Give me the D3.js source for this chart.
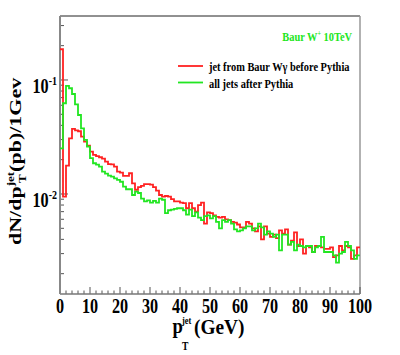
<!DOCTYPE html>
<html>
<head>
<meta charset="utf-8">
<script src="https://cdn.jsdelivr.net/npm/d3@7"></script>
<style>
  body { margin: 0; background: #fff; }
  text { font-family: "Liberation Serif", "DejaVu Serif", serif; font-weight: bold; }
</style>
</head>
<body>
<div id="chart"></div>
<script>
// jet pT histograms, 1 GeV bins from 0 to 100
var binWidth = 1;
var redVals = [
  0.186, 0.0095, 0.0177, 0.0308, 0.0372, 0.0362, 0.0355, 0.0318, 0.0288, 0.0265,
  0.0235, 0.0220, 0.0215, 0.0210, 0.0204, 0.0192, 0.0183, 0.0182, 0.0174, 0.0157,
  0.0154, 0.0144, 0.0144, 0.0152, 0.0124, 0.0109, 0.0115, 0.0118, 0.0122, 0.0122,
  0.0121, 0.0115, 0.0107, 0.0098, 0.0095, 0.0096, 0.0095, 0.0090, 0.0086, 0.0086,
  0.0084, 0.0083, 0.0075, 0.0083, 0.0075, 0.0070, 0.0080, 0.0084, 0.0055, 0.0069,
  0.0068, 0.0065, 0.0063, 0.0062, 0.0063, 0.0060, 0.0059, 0.0057, 0.0056, 0.0054,
  0.0051, 0.0051, 0.0057, 0.0055, 0.0050, 0.0047, 0.0052, 0.0040, 0.0052, 0.0045,
  0.0042, 0.0044, 0.0041, 0.0048, 0.0045, 0.0049, 0.0036, 0.0039, 0.0046, 0.0035,
  0.0040, 0.0030, 0.0035, 0.0034, 0.0031, 0.0035, 0.0035, 0.0034, 0.0033, 0.0033,
  0.0034, 0.0028, 0.0029, 0.0035, 0.0032, 0.0035, 0.0034, 0.0027, 0.0029, 0.0034
];
var greenVals = [
  0.0251, 0.0625, 0.0886, 0.0846, 0.0753, 0.0612, 0.0493, 0.0377, 0.0298, 0.0260,
  0.0206, 0.0186, 0.0181, 0.0174, 0.0157, 0.0151, 0.0145, 0.0142, 0.0137, 0.0133,
  0.0128, 0.0116, 0.0110, 0.0110, 0.0098, 0.0105, 0.0102, 0.0091, 0.0086, 0.0088,
  0.0084, 0.0087, 0.0084, 0.0091, 0.0089, 0.0068, 0.0072, 0.0073, 0.0074, 0.0075,
  0.0075, 0.0072, 0.0066, 0.0073, 0.0064, 0.0069, 0.0062, 0.0059, 0.0064, 0.0065,
  0.0061, 0.0064, 0.0057, 0.0050, 0.0059, 0.0057, 0.0059, 0.0055, 0.0049, 0.0047,
  0.0048, 0.0050, 0.0052, 0.0052, 0.0048, 0.0050, 0.0055, 0.0051, 0.0044, 0.0047,
  0.0045, 0.0042, 0.0044, 0.0032, 0.0044, 0.0044, 0.0036, 0.0038, 0.0032, 0.0036,
  0.0035, 0.0034, 0.0035, 0.0035, 0.0031, 0.0034, 0.0035, 0.0042, 0.0031, 0.0031,
  0.0031, 0.0029, 0.0025, 0.0030, 0.0031, 0.0038, 0.0035, 0.0032, 0.0027, 0.0029
];
var legendLabels = ["jet from Baur W\u03b3 before Pythia", "all jets after Pythia"];
var xTickLabels = ["0", "10", "20", "30", "40", "50", "60", "70", "80", "90", "100"];
var yTickLabels = [{ v: 0.1, exp: "-1" }, { v: 0.01, exp: "-2" }];

var width = 400, height = 355;
var margin = { top: 16, right: 40, bottom: 61, left: 60 };
var squeeze = 0.77;   // the reference fonts are narrow
var redCol = "#ff2222", greenCol = "#22e622";

var svg = d3.select("#chart").append("svg")
    .attr("width", width)
    .attr("height", height);

var x = d3.scaleLinear()
    .domain([0, 100])
    .range([margin.left, width - margin.right]);

var y = d3.scaleLog()
    .domain([0.001327, 0.364])
    .range([height - margin.bottom, margin.top]);

// frame
var x0 = x.range()[0], x1 = x.range()[1], y0 = y.range()[0], y1 = y.range()[1];
svg.append("line").attr("x1", x0).attr("x2", x1).attr("y1", y1).attr("y2", y1)
    .style("stroke", "#222").style("stroke-width", 1);
svg.append("line").attr("x1", x1).attr("x2", x1).attr("y1", y1).attr("y2", y0)
    .style("stroke", "#999").style("stroke-width", 1.5);

// x axis ticks: majors every 10, minors every 2
var xMinor = d3.range(0, 101, 2);
svg.selectAll(".xtick")
    .data(xMinor)
    .enter().append("line")
    .attr("class", "xtick")
    .attr("x1", function(d) { return x(d); })
    .attr("x2", function(d) { return x(d); })
    .attr("y1", y0)
    .attr("y2", function(d) { return d % 10 === 0 ? y0 - 7 : y0 - 3.5; })
    .style("stroke", "#555").style("stroke-width", 1);

// y axis ticks on log scale
var yMinor = [];
[-3, -2, -1].forEach(function(e) {
    for (var m = 1; m <= 9; m++) {
        var v = m * Math.pow(10, e);
        if (v >= y.domain()[0] && v <= y.domain()[1]) yMinor.push({ v: v, major: m === 1 });
    }
});
svg.selectAll(".ytick")
    .data(yMinor)
    .enter().append("line")
    .attr("class", "ytick")
    .attr("x1", x0)
    .attr("x2", function(d) { return d.major ? x0 + 8 : x0 + 4; })
    .attr("y1", function(d) { return y(d.v); })
    .attr("y2", function(d) { return y(d.v); })
    .style("stroke", "#555").style("stroke-width", 1);

svg.append("line").attr("x1", x0).attr("x2", x1).attr("y1", y0).attr("y2", y0)
    .style("stroke", "#777").style("stroke-width", 1.5);
svg.append("line").attr("x1", x0).attr("x2", x0).attr("y1", y1).attr("y2", y0)
    .style("stroke", "#888").style("stroke-width", 2);

// helper for narrow text
function label(px, py, anchor, sq) {
    return svg.append("g")
        .attr("transform", "translate(" + px + "," + py + ") scale(" + (sq || squeeze) + ",1)")
        .append("text")
        .attr("text-anchor", anchor);
}

xTickLabels.forEach(function(t) {
    label(x(+t), 313, "middle").style("font-size", "21px").text(t);
});

yTickLabels.forEach(function(d) {
    var t = label(x0 - 3, y(d.v) + 13, "end").style("font-size", "21px");
    t.append("tspan").text("10");
    t.append("tspan").attr("dy", -8).style("font-size", "13px").text(d.exp);
});

// histograms
var line = d3.line()
    .x(function(d) { return x(d[0]); })
    .y(function(d) { return y(d[1]); })
    .curve(d3.curveStepAfter);

function steps(vals) {
    var pts = vals.map(function(v, i) { return [i * binWidth, v]; });
    pts.push([vals.length * binWidth, vals[vals.length - 1]]);
    return pts;
}

svg.append("path")
    .attr("d", line(steps(redVals)))
    .style("fill", "none").style("stroke", redCol).style("stroke-width", 1.8);
svg.append("path")
    .attr("d", line(steps(greenVals)))
    .style("fill", "none").style("stroke", greenCol).style("stroke-width", 1.8);

// title
var title = label(352, 41, "end").style("font-size", "13.5px").style("fill", greenCol);
title.append("tspan").text("Baur W");
title.append("tspan").attr("dy", -5).style("font-size", "8px").text("+");
title.append("tspan").attr("dy", 5).text(" 10TeV");

// legend
[redCol, greenCol].forEach(function(c, i) {
    var ly = 66 + i * 16.5;
    svg.append("line")
        .attr("x1", 178).attr("x2", 203)
        .attr("y1", ly).attr("y2", ly)
        .style("stroke", c).style("stroke-width", 1.8);
    label(209, ly + 5, "start").style("font-size", "13.5px").text(legendLabels[i]);
});

// x axis title
label(172.5, 333, "start", 0.85).style("font-size", "22px").text("p");
label(182, 350, "start", 0.8).style("font-size", "12px").text("T");
label(182, 324, "start", 0.8).style("font-size", "10.5px").text("jet");
label(194, 334, "start", 0.88).style("font-size", "22px").text("(GeV)");

// y axis title, rotated
var yt = svg.append("g")
    .attr("transform", "translate(21,245) rotate(-90) scale(1," + squeeze + ")")
    .append("text")
    .attr("text-anchor", "start")
    .style("font-size", "22px");
yt.append("tspan").text("dN/dp");
yt.append("tspan").attr("dy", -9).style("font-size", "13px").text("jet");
yt.append("tspan").attr("dy", 9).text("(pb)/1Gev");
svg.append("g")
    .attr("transform", "translate(26,183) rotate(-90) scale(1," + squeeze + ")")
    .append("text")
    .style("font-size", "13px")
    .text("T");
</script>
</body>
</html>
